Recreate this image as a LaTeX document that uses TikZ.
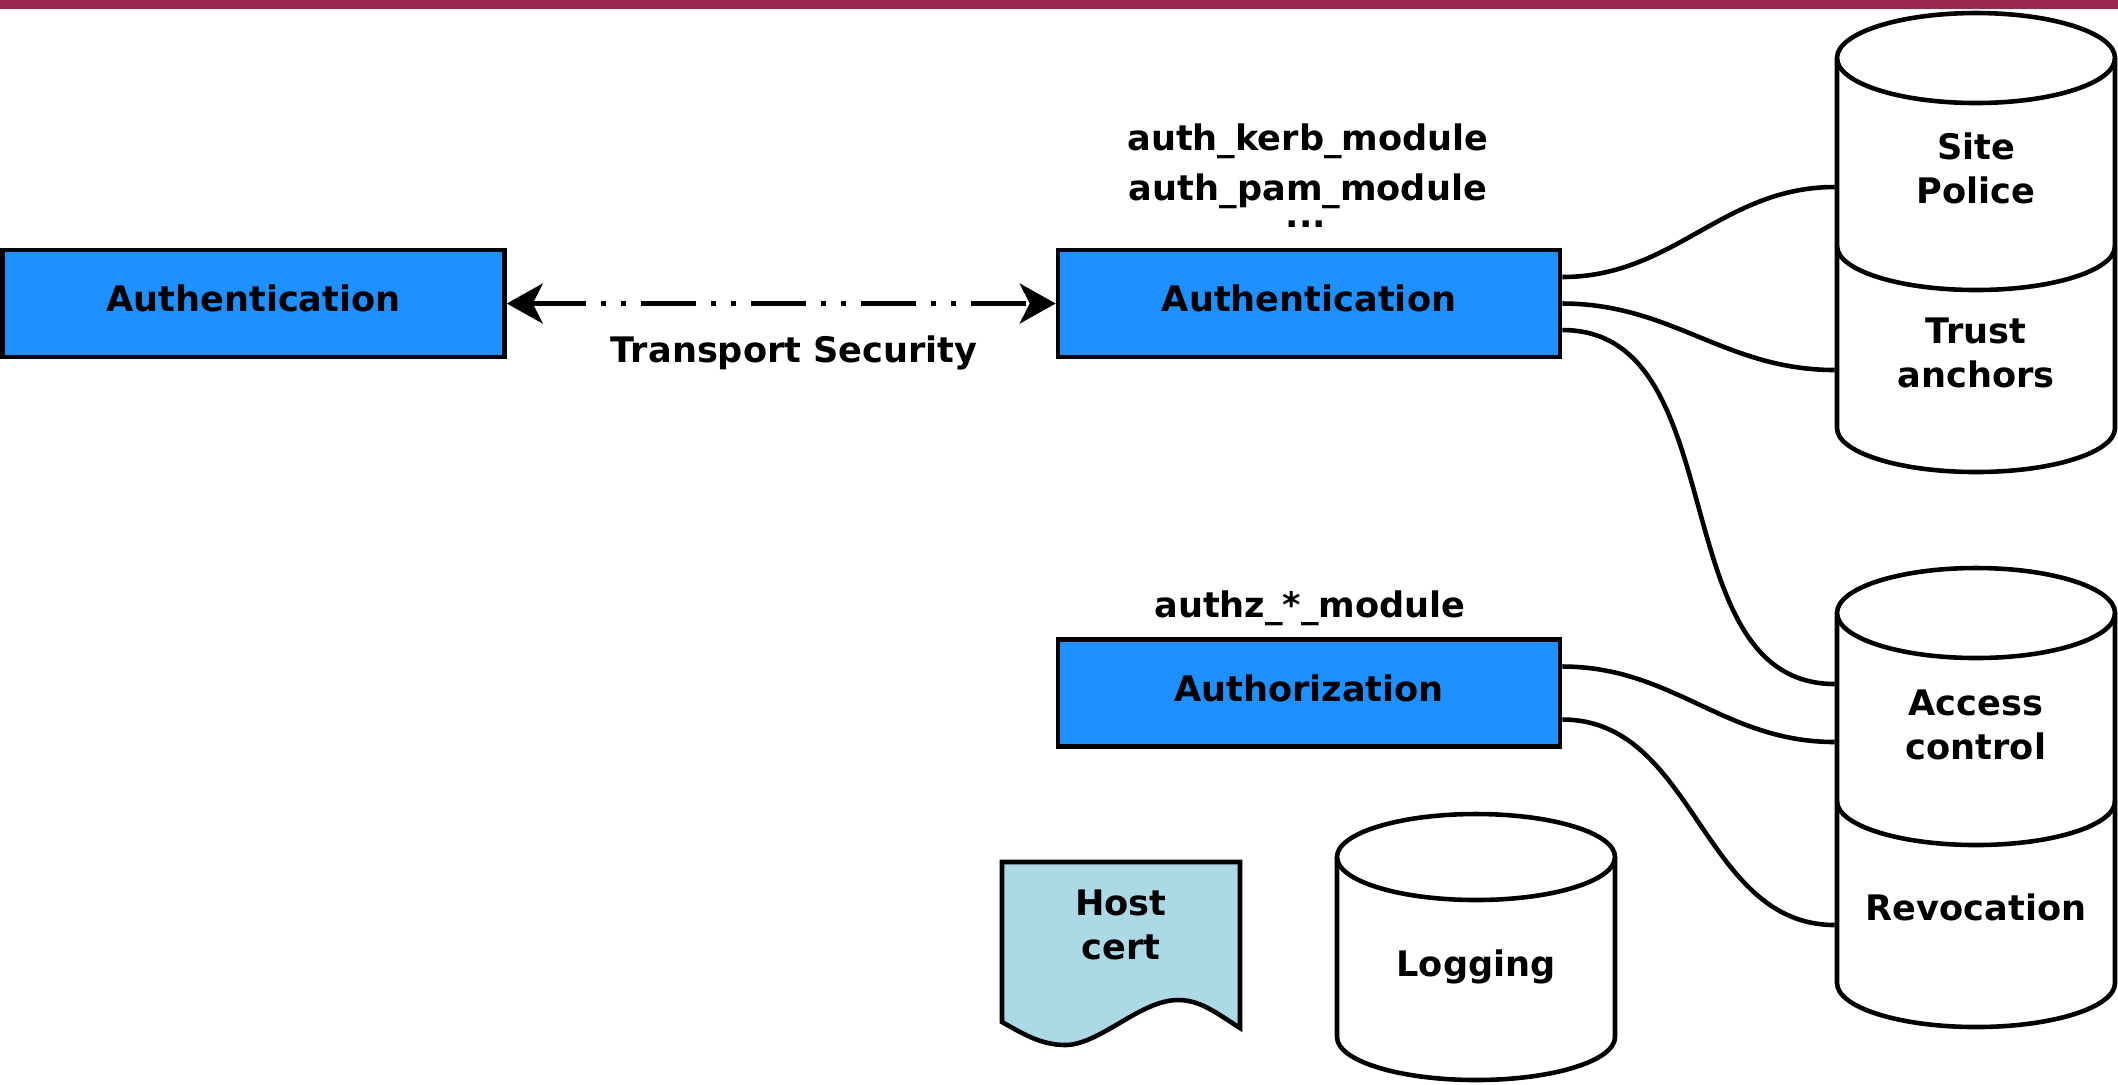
\documentclass[tikz,border=0pt]{standalone}
\usepackage{fontspec}
\setmainfont{DejaVu Sans}
\usetikzlibrary{arrows.meta}
\definecolor{barred}{RGB}{155,41,77}
\definecolor{boxblue}{RGB}{30,144,255}
\definecolor{certblue}{RGB}{173,216,230}
\begin{document}
\begin{tikzpicture}[font=\bfseries\fontsize{10pt}{12.5pt}\selectfont, line width=1.3pt,
    block/.style={draw, fill=boxblue, minimum width=5.02cm, minimum height=1.07cm, inner sep=0pt, text depth=3pt},
    slot/.style={align=center, inner sep=0pt, minimum width=2.78cm},
    tag/.style={inner sep=0pt},
    transport/.style={<->, >={Stealth[length=0.36cm,width=0.40cm,inset=0.1cm]},
      dash pattern=on 15.6pt off 4.3pt on 1.4pt off 4.3pt on 1.4pt off 4.3pt}]
      \useasboundingbox (0,0) rectangle (21.18,-10.84);
      \fill[barred] (0,0) rectangle (21.18,-0.09);
      \node[block] (authleft) at (2.535,-3.035) {Authentication};
      \node[block] (authmid) at (13.09,-3.035) {Authentication};
      \node[block] (authz) at (13.09,-6.93) {Authorization};
      \node[tag] (kerbmod) at (13.08,-1.41) {auth\_kerb\_module};
      \node[tag] (pammod) at (13.08,-1.91) {auth\_pam\_module};
      \node[tag] (moredots) at (13.06,-2.24) {...};
      \node[tag] (authzmod) at (13.10,-6.08) {authz\_*\_module};
      \draw (18.37,-0.58) -- (18.37,-4.28) arc[start angle=180, end angle=360, x radius=1.39cm, y radius=0.44cm] -- (21.15,-0.58);
      \draw (19.76,-0.58) ellipse [x radius=1.39cm, y radius=0.45cm];
      \draw (18.37,-2.46) arc[start angle=180, end angle=360, x radius=1.39cm, y radius=0.44cm];
      \draw (18.37,-6.13) -- (18.37,-9.83) arc[start angle=180, end angle=360, x radius=1.39cm, y radius=0.44cm] -- (21.15,-6.13);
      \draw (19.76,-6.13) ellipse [x radius=1.39cm, y radius=0.45cm];
      \draw (18.37,-8.01) arc[start angle=180, end angle=360, x radius=1.39cm, y radius=0.44cm];
      \draw (13.37,-8.57) -- (13.37,-10.37) arc[start angle=180, end angle=360, x radius=1.39cm, y radius=0.43cm] -- (16.15,-8.57);
      \draw (14.76,-8.57) ellipse [x radius=1.39cm, y radius=0.43cm];
      \draw[fill=certblue] (10.02,-8.62) -- (12.40,-8.62) -- (12.40,-10.28)
        .. controls (12.15,-10.12) and (12.00,-10.00) .. (11.78,-10.00)
        .. controls (11.40,-10.00) and (11.00,-10.45) .. (10.65,-10.45)
        .. controls (10.40,-10.45) and (10.20,-10.32) .. (10.02,-10.22) -- cycle;
      \node[slot] (police) at (19.76,-1.68) {Site\\Police};
      \node[slot] (trust) at (19.76,-3.53) {Trust\\anchors};
      \node[slot] (access) at (19.76,-7.25) {Access\\control};
      \node[slot] (revoc) at (19.76,-9.07) {Revocation};
      \node[slot] (logging) at (14.76,-9.67) {Logging};
      \node[slot] (host) at (11.21,-9.25) {Host\\cert};
      \draw[transport] (authleft) -- (authmid)
        node[tag, midway, below=0.3cm, xshift=0.13cm] (transec) {Transport Security};
      \begin{scope}[-]
        \draw ([yshift=0.265cm]authmid.east) to[out=0,in=180] ([yshift=-0.19cm]police.west);
        \draw (authmid.east) to[out=0,in=180] ([yshift=-0.17cm]trust.west);
        \draw ([yshift=-0.265cm]authmid.east) to[out=0,in=180] ([yshift=0.41cm]access.west);
        \draw ([yshift=0.265cm]authz.east) to[out=0,in=180] ([yshift=-0.17cm]access.west);
        \draw ([yshift=-0.265cm]authz.east) to[out=0,in=180] ([yshift=-0.18cm]revoc.west);
      \end{scope}
    \end{tikzpicture}
\end{document}
